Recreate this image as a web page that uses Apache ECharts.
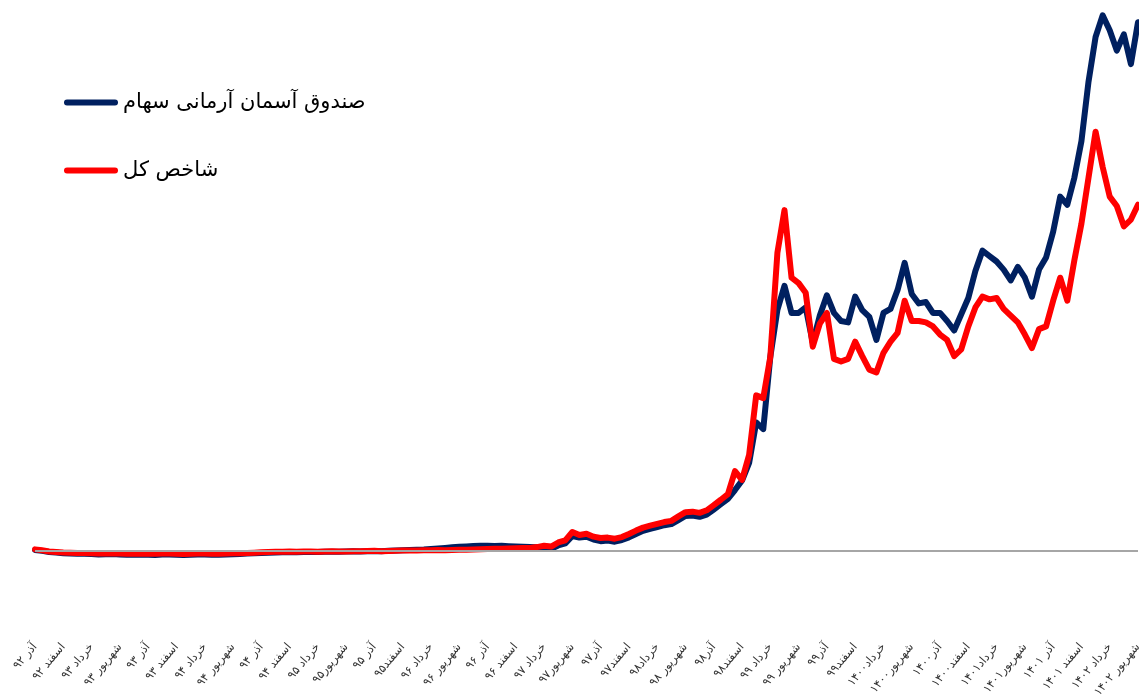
<!DOCTYPE html>
<html>
<head>
<meta charset="utf-8">
<script src="https://cdn.jsdelivr.net/npm/echarts@6/dist/echarts.min.js"></script>
<style>
  html, body { margin: 0; padding: 0; background: #fff; }
  #main { width: 1139px; height: 699px; }
</style>
</head>
<body>
<div id="main"></div>
<script>
var chartDom = document.getElementById('main');
var myChart = echarts.init(chartDom);

// برچسب‌های فصلی محور افقی
var quarterLabels = ['آذر ۹۲','اسفند ۹۲','خرداد ۹۳','شهریور ۹۳','آذر ۹۳','اسفند ۹۳','خرداد ۹۴','شهریور ۹۴','آذر ۹۴','اسفند ۹۴',
    'خرداد ۹۵','شهریور۹۵','آذر ۹۵','اسفند۹۵','خرداد ۹۶','شهریور ۹۶','آذر ۹۶','اسفند ۹۶','خرداد ۹۷','شهریور۹۷',
    'آذر۹۷','اسفند۹۷','خرداد۹۸','شهریور ۹۸','آذر۹۸','اسفند۹۸','خرداد ۹۹','شهریور ۹۹','آذر۹۹','اسفند۹۹',
    'خرداد۱۴۰۰','شهریور۱۴۰۰','آذر۱۴۰۰','اسفند۱۴۰۰','خرداد۱۴۰۱','شهریور۱۴۰۱','آذر ۱۴۰۱','اسفند ۱۴۰۱','خرداد ۱۴۰۲','شهریور ۱۴۰۲'];
var stepsPerQuarter = 4;

var fundName = 'صندوق آسمان آرمانی سهام';
var indexName = 'شاخص کل';

// بازده تجمعی (درصد) - صندوق
var fundValues = [
    7, 0, -8, -13, -17, -19, -22, -21, -24, -26,
    -25, -24, -27, -29, -28, -26, -28, -30, -27, -26,
    -28, -30, -29, -27, -26, -28, -29, -27, -25, -23,
    -20, -18, -16, -14, -12, -11, -10, -11, -9, -8,
    -9, -7, -6, -7, -5, -3, -4, -2, -1, -2,
    0, 2, 4, 6, 8, 10, 14, 18, 22, 26,
    30, 33, 36, 38, 37, 36, 37, 35, 33, 30,
    28, 26, 22, 15, 40, 55, 110, 98, 104, 84,
    72, 76, 68, 80, 100, 125, 148, 162, 176, 190,
    198, 228, 258, 262, 252, 268, 306, 345, 385, 450,
    520, 650, 950, 900, 1436, 1783, 1960, 1760, 1760, 1800,
    1540, 1740, 1890, 1760, 1700, 1690, 1880, 1780, 1730, 1560,
    1760, 1790, 1930, 2130, 1900, 1830, 1840, 1760, 1760, 1700,
    1630, 1750, 1870, 2070, 2220, 2180, 2140, 2080, 2000, 2100,
    2020, 1880, 2080, 2170, 2360, 2620, 2560, 2760, 3030, 3470,
    3800, 3960, 3850, 3700, 3820, 3600, 3910
];

// بازده تجمعی (درصد) - شاخص کل
var indexValues = [
    11, 4, -4, -8, -12, -14, -16, -15, -18, -20,
    -19, -18, -20, -22, -21, -19, -21, -22, -20, -19,
    -21, -23, -22, -20, -19, -21, -22, -20, -18, -17,
    -15, -13, -10, -8, -7, -6, -5, -6, -4, -5,
    -6, -4, -3, -5, -4, -2, -3, -1, 0, -2,
    -1, 0, 2, 3, 2, 4, 5, 6, 5, 7,
    8, 9, 10, 12, 14, 16, 15, 17, 20, 22,
    22, 28, 38, 32, 62, 78, 140, 118, 126, 105,
    95, 98, 90, 102, 125, 150, 172, 186, 200, 213,
    222, 255, 286, 290, 281, 300, 338, 378, 420, 590,
    525, 710, 1150, 1130, 1436, 2205, 2520, 2020, 1980, 1909,
    1510, 1680, 1760, 1420, 1400, 1420, 1547, 1440, 1340, 1320,
    1465, 1547, 1613, 1850, 1700, 1700, 1690, 1660, 1600, 1560,
    1440, 1490, 1660, 1800, 1880, 1860, 1870, 1790, 1740, 1690,
    1600, 1500, 1640, 1660, 1850, 2020, 1850, 2150, 2420, 2760,
    3100, 2840, 2620, 2550, 2400, 2450, 2560
];

// هر فصل چند نقطه دارد؛ فقط ابتدای فصل برچسب می‌گیرد
var categories = [];
quarterLabels.forEach(function (lab, i) {
    categories.push(lab);
    if (i < quarterLabels.length - 1) {
        for (var k = 1; k < stepsPerQuarter; k++) categories.push('');
    }
});

var fontFamily = 'DejaVu Sans';
// آیکون خطی با سر گرد برای راهنما
var lineIcon = 'path://M3,0 L51,0 A3,3 0 0 1 51,6 L3,6 A3,3 0 0 1 3,0 Z';

var option = {
    animation: false,
    grid: { left: 35, right: 1, top: 10, bottom: 67, containLabel: false, outerBoundsMode: 'none' },
    legend: {
        orient: 'vertical',
        left: 59,
        top: 87,
        itemGap: 47,
        itemWidth: 54,
        itemHeight: 6,
        textStyle: { fontFamily: fontFamily, fontSize: 21, color: '#000' },
        data: [
            { name: fundName, icon: lineIcon, itemStyle: { color: '#002060' } },
            { name: indexName, icon: lineIcon, itemStyle: { color: '#ff0000' } }
        ]
    },
    xAxis: {
        type: 'category',
        boundaryGap: false,
        data: categories,
        axisLine: { show: false },
        axisTick: { show: false },
        splitLine: { show: false },
        axisLabel: {
            interval: stepsPerQuarter - 1,
            rotate: 50,
            margin: 13,
            hideOverlap: false,
            overflow: 'none',
            fontFamily: fontFamily,
            fontSize: 11.5,
            color: '#333'
        }
    },
    yAxis: {
        type: 'value',
        min: -600,
        max: 4000,
        show: false,
        splitLine: { show: false }
    },
    series: [{
        name: fundName,
        type: 'line',
        data: fundValues,
        showSymbol: false,
        symbol: 'none',
        lineStyle: { color: '#002060', width: 6, cap: 'round', join: 'round' },
        itemStyle: { color: '#002060' },
        markLine: {
            silent: true,
            symbol: 'none',
            label: { show: false },
            lineStyle: { color: '#a6a6a6', width: 2, type: 'solid' },
            data: [{ yAxis: 0 }]
        }
    }, {
        name: indexName,
        type: 'line',
        data: indexValues,
        showSymbol: false,
        symbol: 'none',
        lineStyle: { color: '#ff0000', width: 6, cap: 'round', join: 'round' },
        itemStyle: { color: '#ff0000' }
    }]
};

myChart.setOption(option);
</script>
</body>
</html>
